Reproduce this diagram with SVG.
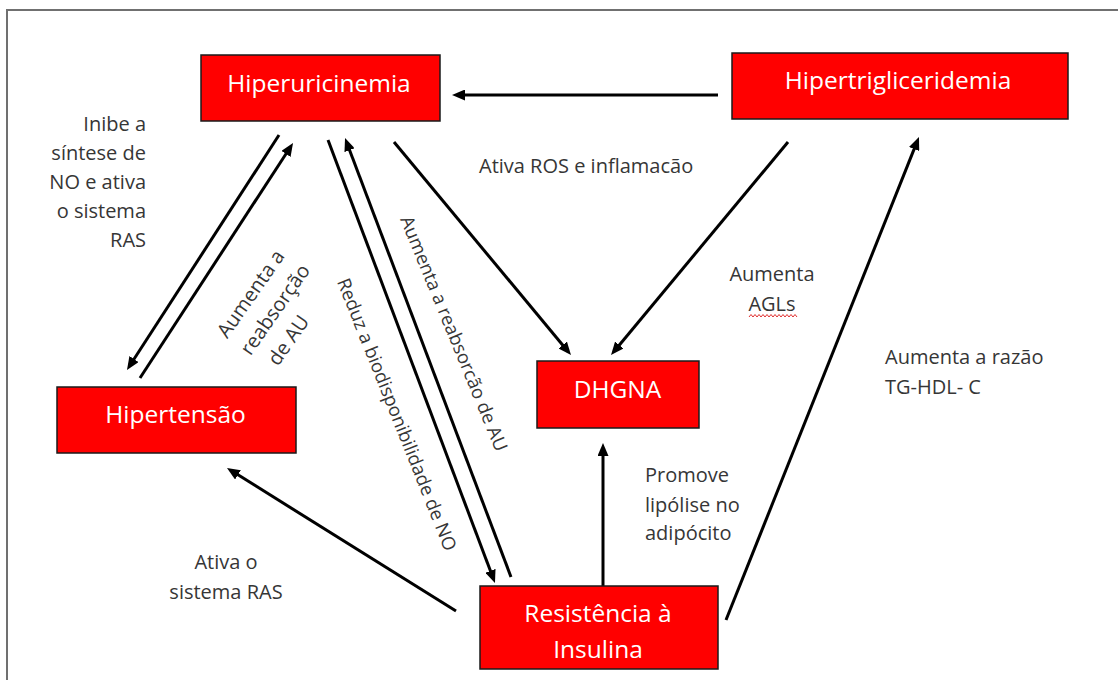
<svg xmlns="http://www.w3.org/2000/svg" width="1118" height="680" viewBox="0 0 1118 680">
  <defs>
    <marker id="arrow" markerUnits="userSpaceOnUse" markerWidth="13" markerHeight="11" viewBox="0 0 13 11" refX="8" refY="5.5" orient="auto">
      <path d="M0,0 L13,5.5 L0,11 z" fill="#000"/>
    </marker>
    <style>
      .box { fill: #ff0000; stroke: #1a1a1a; stroke-width: 1.5; }
      .nodetext { font-family: "Open Sans", "Noto Sans", sans-serif; font-size: 24.5px; fill: #ffffff; text-anchor: middle; }
      .label { font-family: "Open Sans", "Noto Sans", sans-serif; font-size: 20px; fill: #363636; }
      .slant { font-size: 18.5px; }
      .mid { text-anchor: middle; }
      .end { text-anchor: end; }
      .conn line { stroke: #000; stroke-width: 3; marker-end: url(#arrow); }
      .frame { stroke: #707070; stroke-width: 2; fill: none; }
    </style>
  </defs>

  <rect width="1118" height="680" fill="#ffffff"/>

  <!-- page frame (top and left edges) -->
  <path class="frame" d="M7,680 L7,10 L1118,10"/>

  <!-- connectors -->
  <g id="connectors" class="conn">
    <line x1="718" y1="95" x2="457" y2="95"/>
    <line x1="279" y1="135" x2="129.7" y2="365.8"/>
    <line x1="140" y1="378" x2="290.3" y2="147.2"/>
    <line x1="328" y1="140" x2="493.2" y2="578.3"/>
    <line x1="511" y1="577" x2="346.8" y2="142.7"/>
    <line x1="394" y1="142" x2="567.8" y2="351.2"/>
    <line x1="788" y1="142" x2="614.2" y2="351.2"/>
    <line x1="603" y1="586" x2="603" y2="448"/>
    <line x1="726" y1="620" x2="917.1" y2="141.6"/>
    <line x1="456" y1="611" x2="231.2" y2="470.6"/>
  </g>

  <!-- nodes -->
  <g id="hiperuricinemia">
    <rect class="box" x="201" y="55" width="239" height="66"/>
    <text class="nodetext" x="319" y="92">Hiperuricinemia</text>
  </g>
  <g id="hipertrigliceridemia">
    <rect class="box" x="732" y="53" width="336" height="66"/>
    <text class="nodetext" x="898" y="89">Hipertrigliceridemia</text>
  </g>
  <g id="hipertensao">
    <rect class="box" x="57" y="387" width="239" height="66"/>
    <text class="nodetext" x="175.5" y="423">Hipertensão</text>
  </g>
  <g id="dhgna">
    <rect class="box" x="537" y="361" width="162" height="67"/>
    <text class="nodetext" x="617.5" y="398">DHGNA</text>
  </g>
  <g id="resistencia-insulina">
    <rect class="box" x="480" y="586" width="238" height="83"/>
    <text class="nodetext" x="598" y="622">Resistência à</text>
    <text class="nodetext" x="598" y="658">Insulina</text>
  </g>

  <!-- connector labels -->
  <g id="labels">
    <text class="label end" x="146" y="131">Inibe a</text>
    <text class="label end" x="146" y="160">síntese de</text>
    <text class="label end" x="146" y="189">NO e ativa</text>
    <text class="label end" x="146" y="218">o sistema</text>
    <text class="label end" x="146" y="247">RAS</text>

    <text class="label" x="479" y="173">Ativa ROS e inflamacão</text>

    <text class="label mid" x="772" y="281">Aumenta</text>
    <text class="label mid" x="772" y="311">AGLs</text>
    <path d="M749,317 l2,-2.5 l2,2.5 l2,-2.5 l2,2.5 l2,-2.5 l2,2.5 l2,-2.5 l2,2.5 l2,-2.5 l2,2.5 l2,-2.5 l2,2.5 l2,-2.5 l2,2.5 l2,-2.5 l2,2.5 l2,-2.5 l2,2.5 l2,-2.5 l2,2.5 l2,-2.5 l2,2.5 l2,-2.5 l2,2.5" fill="none" stroke="#e03030" stroke-width="1"/>

    <text class="label" x="885" y="364">Aumenta a razão</text>
    <text class="label" x="885" y="394">TG-HDL- C</text>

    <text class="label" x="645" y="482">Promove</text>
    <text class="label" x="645" y="512">lipólise no</text>
    <text class="label" x="645" y="540">adipócito</text>

    <text class="label mid" x="226" y="569">Ativa o</text>
    <text class="label mid" x="226" y="599">sistema RAS</text>

    <g transform="translate(280.7,313.5) rotate(-55)">
      <text class="label mid" x="-1" y="-29">Aumenta a</text>
      <text class="label mid" x="0" y="0">reabsorção</text>
      <text class="label mid" x="-17.5" y="28.5">de AU</text>
    </g>

    <text class="label slant mid" transform="translate(391,417) rotate(68.2)">Reduz a biodisponibilidade de NO</text>
    <text class="label slant mid" transform="translate(448,336) rotate(67.6)">Aumenta a reabsorcão de AU</text>
  </g>
</svg>
